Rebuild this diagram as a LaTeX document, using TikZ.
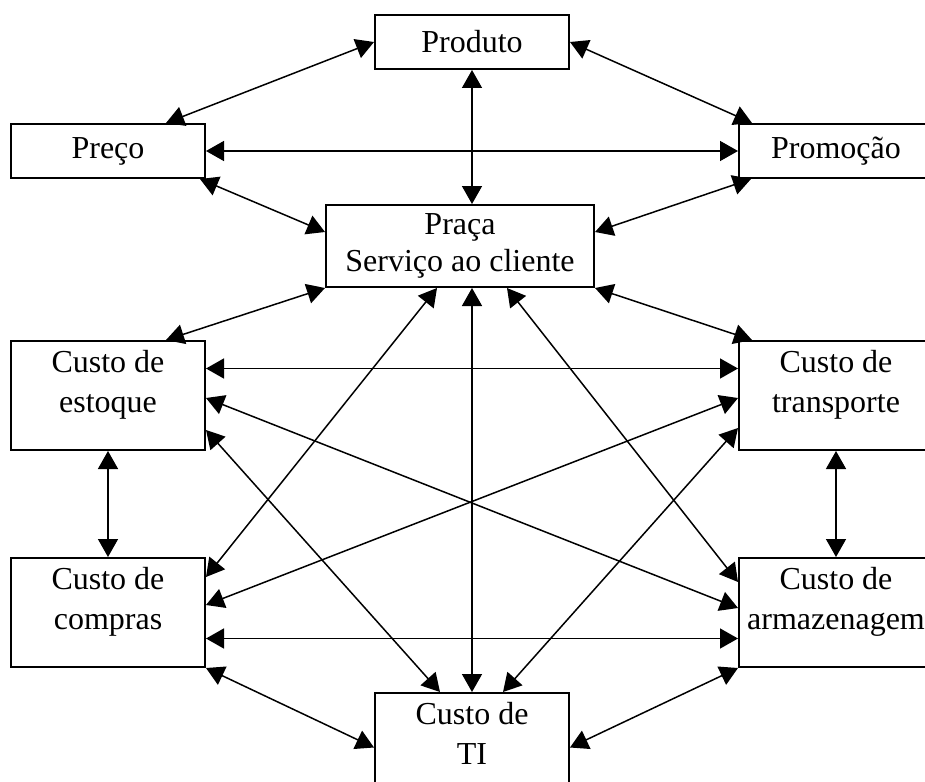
\documentclass[tikz,border=0pt]{standalone}
\usepackage{fontspec}
\setmainfont{Liberation Serif}
\usetikzlibrary{arrows.meta,calc}

\begin{document}
\begin{tikzpicture}[x=0.5pt, y=-0.5pt, font=\fontsize{16}{20}\selectfont,
    >={Triangle[length=9pt,width=10pt]}, line width=0.75pt,
    main/.style = {draw, rectangle, line width=1pt, minimum width=97pt, minimum height=27pt},
    tall/.style = {main, align=center, inner xsep=2pt, inner ysep=4.5pt, text height=31pt, text depth=14.5pt}]
    \useasboundingbox (0,0) rectangle (925,781);
    \clip (0,0) rectangle (925,781);
    \node[main] (prod) at (472,42) {Produto};
    \node[main] (preco) at (108,151) {Preço};
    \node[main] (promo) at (836,151) {Promoção};
    \node[main, align=center, minimum width=134pt, minimum height=41pt] (praca) at (460,246) {Praça\\[-1.5pt]Serviço ao cliente};
    \node[tall] (estoque) at (108,395.5) {Custo de\\estoque};
    \node[tall] (transp) at (836,395.5) {Custo de\\transporte};
    \node[tall] (compras) at (108,612.5) {Custo de\\compras};
    \node[tall] (armaz) at (836,612.5) {Custo de\\armazenagem};
    \node[tall] (ti) at (472,747.5) {Custo de\\TI};
    \draw[<->] (prod.west) -- ($(preco.north)+(58,0)$);
    \draw[<->] (prod.east) -- ($(promo.north)+(-84,0)$);
    \draw[<->] (prod.south) -- ($(praca.north)+(12,0)$);
    \draw[<->] (preco.east) -- (promo.west);
    \draw[<->] ($(preco.south east)+(-6,0)$) -- ($(praca.west)+(0,-14)$);
    \draw[<->] ($(promo.south west)+(13,0)$) -- ($(praca.east)+(0,-14)$);
    \draw[<->] (praca.south west) -- ($(estoque.north)+(58,0)$);
    \draw[<->] (praca.south east) -- ($(transp.north)+(-84,0)$);
    \draw[<->] ($(estoque.east)+(0,-27)$) -- ($(transp.west)+(0,-27)$);
    \draw[<->] ($(estoque.east)+(0,2.5)$) -- ($(armaz.west)+(0,-4.5)$);
    \draw[<->] ($(estoque.east)+(0,34.5)$) -- ($(ti.north)+(-32,0)$);
    \draw[<->] (estoque.south) -- (compras.north);
    \draw[<->] (transp.south) -- (armaz.north);
    \draw[<->] ($(compras.east)+(0,-35.5)$) -- ($(praca.south)+(-23,0)$);
    \draw[<->] ($(compras.east)+(0,-7.5)$) -- ($(transp.west)+(0,2.5)$);
    \draw[<->] ($(compras.east)+(0,26)$) -- ($(armaz.west)+(0,26)$);
    \draw[<->] (compras.south east) -- (ti.west);
    \draw[<->] ($(transp.west)+(0,32.5)$) -- ($(ti.north)+(31,0)$);
    \draw[<->] ($(armaz.west)+(0,-30.5)$) -- ($(praca.south)+(47,0)$);
    \draw[<->] (armaz.south west) -- (ti.east);
    \draw[<->] ($(praca.south)+(12,0)$) -- (ti.north);
\end{tikzpicture}
\end{document}
